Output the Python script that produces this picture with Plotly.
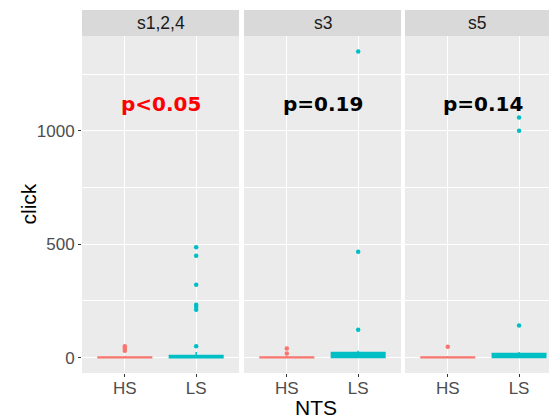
import plotly.graph_objects as go

# ---- data ----
facets = ["s1,2,4", "s3", "s5"]
groups = ["HS", "LS"]
colors = {"HS": "#F8766D", "LS": "#00BFC4"}

# box statistics per facet [HS, LS]
q1 = {"s1,2,4": [0, 0], "s3": [0, 1], "s5": [0, 1]}
median = {"s1,2,4": [1, 3], "s3": [1, 8], "s5": [1, 6]}
q3 = {"s1,2,4": [3, 10], "s3": [3, 23], "s5": [3, 18]}
lower = {"s1,2,4": [0, 0], "s3": [0, 0], "s5": [0, 0]}
upper = {"s1,2,4": [7, 25], "s3": [7, 31], "s5": [7, 25]}

outliers = {
    ("s1,2,4", "HS"): [30, 40, 50],
    ("s1,2,4", "LS"): [50, 211, 223, 233, 321, 449, 487],
    ("s3", "HS"): [18, 40],
    ("s3", "LS"): [123, 467, 1349],
    ("s5", "HS"): [48],
    ("s5", "LS"): [142, 1000, 1058],
}

p_labels = ["p<0.05", "p=0.19", "p=0.14"]
p_colors = ["#FF0000", "#000000", "#000000"]
p_y = 1120

y_ticks = [0, 500, 1000]

# ---- layout geometry ----
W, H = 551, 419
ml, mr, mt, mb = 82, 2, 10, 46
pw = W - ml - mr
ph = H - mt - mb
panel_top_px = 36
ydom_top = (373 - panel_top_px) / ph
xdoms = [(82, 239), (244, 401), (405, 549)]
xranges = [[0.4, 2.6], [0.4, 2.6], [0.4, 2.42]]

fig = go.Figure()

for i, f in enumerate(facets):
    ax = "" if i == 0 else str(i + 1)
    for j, g in enumerate(groups):
        fig.add_trace(go.Box(
            x=[j + 1], q1=[q1[f][j]], median=[median[f][j]], q3=[q3[f][j]],
            lowerfence=[lower[f][j]], upperfence=[upper[f][j]],
            width=0.75, whiskerwidth=0, line=dict(color=colors[g], width=1.5),
            fillcolor=colors[g], boxpoints=False, showlegend=False,
            xaxis="x" + ax, yaxis="y" + ax, hoverinfo="skip",
        ))
        pts = outliers[(f, g)]
        fig.add_trace(go.Scatter(
            x=[j + 1] * len(pts), y=pts, mode="markers",
            marker=dict(color=colors[g], size=4.5),
            showlegend=False, xaxis="x" + ax, yaxis="y" + ax, hoverinfo="skip",
        ))

layout = dict(
    width=W, height=H,
    margin=dict(l=ml, r=mr, t=mt, b=mb),
    paper_bgcolor="white", plot_bgcolor="#EBEBEB",
    font=dict(family="Liberation Sans, Arial, sans-serif"),
)

shapes = []
annotations = []
for i, f in enumerate(facets):
    ax = "" if i == 0 else str(i + 1)
    d0 = (xdoms[i][0] - ml) / pw
    d1 = (xdoms[i][1] - ml) / pw
    layout["xaxis" + ax] = dict(
        domain=[d0, d1], range=xranges[i], tickvals=[1, 2], ticktext=groups,
        showgrid=True, gridcolor="white", gridwidth=1.1, zeroline=False,
        ticks="outside", ticklen=3, tickcolor="#333333", tickwidth=1,
        ticklabelstandoff=-3,
        tickfont=dict(size=17, color="#4D4D4D"), anchor="y" + ax,
        fixedrange=True,
    )
    layout["yaxis" + ax] = dict(
        domain=[0, ydom_top], range=[-67.5, 1417.5], tickvals=y_ticks,
        showgrid=True, gridcolor="white", gridwidth=1.1, zeroline=False,
        minor=dict(dtick=250, tick0=0, showgrid=True, gridcolor="white", gridwidth=0.5),
        ticks="outside" if i == 0 else "", ticklen=3, tickcolor="#333333", tickwidth=1,
        showticklabels=(i == 0),
        tickfont=dict(size=17, color="#4D4D4D"), anchor="x" + ax,
        fixedrange=True,
    )
    shapes.append(dict(
        type="rect", xref=f"x{ax} domain", yref="paper",
        x0=0, x1=1, y0=ydom_top, y1=1,
        fillcolor="#D9D9D9", line=dict(width=0), layer="below",
    ))
    annotations.append(dict(
        text=f, xref=f"x{ax} domain", yref="paper", x=0.5,
        y=(ydom_top + 1) / 2, showarrow=False,
        font=dict(size=17.5, color="#1A1A1A"), xanchor="center", yanchor="middle",
    ))
    annotations.append(dict(
        text=f"<b>{p_labels[i]}</b>", xref="x" + ax, yref="y" + ax,
        x=1.5, y=p_y, showarrow=False,
        font=dict(size=20, color=p_colors[i], family="DejaVu Sans, Verdana, sans-serif"),
        xanchor="center", yanchor="middle",
    ))

annotations.append(dict(
    text="click", xref="paper", yref="paper", x=-(ml - 28) / pw,
    y=ydom_top / 2, textangle=-90, showarrow=False,
    font=dict(size=21, color="black"), xanchor="center", yanchor="middle",
))
annotations.append(dict(
    text="NTS", xref="paper", yref="paper", x=0.5,
    y=-(407 - (H - mb)) / ph, showarrow=False,
    font=dict(size=21, color="black"), xanchor="center", yanchor="middle",
))

layout["shapes"] = shapes
layout["annotations"] = annotations
fig.update_layout(**layout)

fig.write_html("out.html", config={"displayModeBar": False},
               post_script="document.body.style.margin='0px';")
